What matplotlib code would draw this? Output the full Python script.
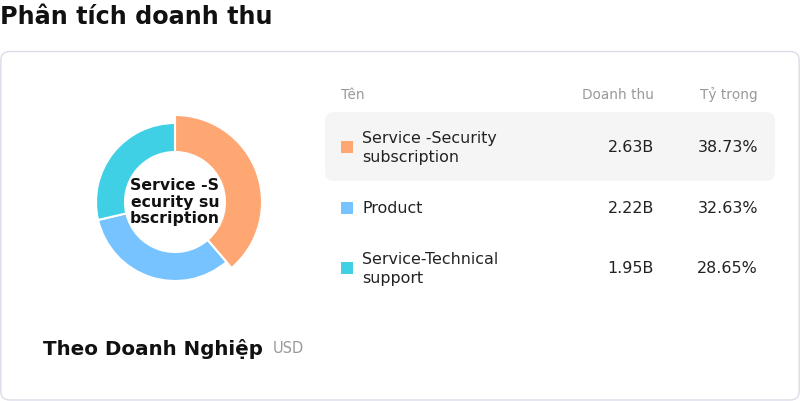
import textwrap
import matplotlib
matplotlib.use("Agg")
import matplotlib.pyplot as plt
from matplotlib.patches import FancyBboxPatch, Rectangle

plt.rcParams['font.family'] = ['DejaVu Sans']

# ---- data ----
names = ["Service -Security subscription", "Product", "Service-Technical support"]
revenue_b = [2.63, 2.22, 1.95]
shares = [38.73, 32.63, 28.65]
colors = ["#FFA772", "#76C3FF", "#40D0E6"]
headers = ["Tên", "Doanh thu", "Tỷ trọng"]
title = "Phân tích doanh thu"
subtitle = "Theo Doanh Nghiệp"
unit = "USD"

W, H = 800, 402
fig = plt.figure(figsize=(W / 100, H / 100), dpi=100)
fig.patch.set_facecolor("white")

# overlay axes in pixel coordinates
ax = fig.add_axes([0, 0, 1, 1])
ax.set_xlim(0, W)
ax.set_ylim(H, 0)
ax.axis("off")

# card
card = FancyBboxPatch((0.8, 52.5), W - 1.6, 348.5,
                      boxstyle="round,pad=0,rounding_size=9",
                      facecolor="white", edgecolor="#dcdce8", linewidth=1.0)
ax.add_patch(card)

ax.text(0, 16.5, title, fontsize=17.2, fontweight="bold", color="#111111",
        ha="left", va="center")

# highlighted row
hl = FancyBboxPatch((325, 113), 450, 69,
                    boxstyle="round,pad=0,rounding_size=9",
                    facecolor="#f5f5f5", edgecolor="none")
ax.add_patch(hl)

# headers
hy = 95
ax.text(341, hy, headers[0], fontsize=9.8, color="#999999", ha="left", va="center")
ax.text(654, hy, headers[1], fontsize=9.8, color="#999999", ha="right", va="center")
ax.text(758, hy, headers[2], fontsize=9.8, color="#999999", ha="right", va="center")

row_y = [148, 209, 269]
for i, (n, v, s, c) in enumerate(zip(names, revenue_b, shares, colors)):
    y = row_y[i]
    ax.add_patch(Rectangle((341, y - 6), 12, 12, facecolor=c, edgecolor="none"))
    ax.text(362, y, textwrap.fill(n, 18), fontsize=11.4, color="#222222",
            ha="left", va="center", linespacing=1.27)
    ax.text(654, y, f"{v:.2f}B", fontsize=11.4, color="#222222", ha="right", va="center")
    ax.text(758, y, f"{s:.2f}%", fontsize=11.4, color="#222222", ha="right", va="center")

# bottom-left caption
ax.text(43, 349, subtitle, fontsize=14.3, fontweight="bold", color="#111111",
        ha="left", va="center")
ax.text(273, 349, unit, fontsize=10.5, color="#999999", ha="left", va="center")

# ---- donut ----
cx, cy, r_out, r_in, r_hi = 175, 203, 79, 50, 87
dax = fig.add_axes([(cx - 100) / W, (H - cy - 100) / H, 200 / W, 200 / H])
wedges, _ = dax.pie(shares, colors=colors, startangle=90, counterclock=False,
                    radius=r_out, wedgeprops=dict(width=r_out - r_in,
                                                  edgecolor="white", linewidth=1.5))
wedges[0].set_radius(r_hi)
wedges[0].set_width(r_hi - r_in)
dax.set_xlim(-100, 100)
dax.set_ylim(-100, 100)
dax.set_aspect("auto")
dax.axis("off")

center_label = names[0]
lines = [center_label[i:i + 10] for i in range(0, len(center_label), 10)]
dax.text(0, 1, "\n".join(lines), fontsize=11.3, fontweight="bold", color="#111111",
         ha="center", va="center", linespacing=1.1)

fig.savefig("out.png", dpi=100, facecolor="white")
